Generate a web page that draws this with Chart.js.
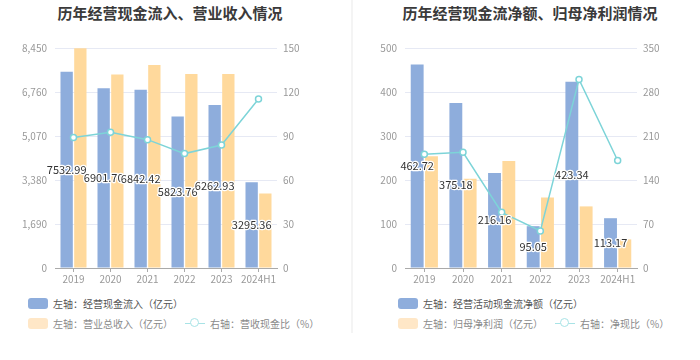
<!DOCTYPE html>
<html>
<head>
<meta charset="utf-8">
<script src="https://cdn.jsdelivr.net/npm/chart.js@4.4.0/dist/chart.umd.min.js"></script>
<style>
  body { margin: 0; width: 700px; height: 360px; background: #fff; position: relative; overflow: hidden;
         font-family: "Noto Sans CJK SC", "Noto Sans", sans-serif; }
  .title { position: absolute; top: 2px; transform: translateX(-50%); white-space: nowrap;
           font-size: 15px; font-weight: bold; color: #3a3a3a; }
  .panel { position: absolute; top: 0; }
  .sep { position: absolute; left: 351px; top: 0; width: 2px; height: 333px; background: #f4f4f4; }
  .legend { position: absolute; font-size: 10px; }
  .row { position: absolute; left: 0; display: flex; align-items: center; white-space: nowrap; height: 14px; }
  .item { display: flex; align-items: center; margin-right: 12px; }
  .box { width: 20px; height: 11px; border-radius: 3px; margin-right: 5px; }
  .mark { position: relative; width: 20px; height: 11px; margin-right: 5px; }
  .mark i { position: absolute; left: 0; right: 0; top: 5px; height: 1.5px; }
  .mark b { position: absolute; left: 5px; top: 0.5px; width: 7px; height: 7px; border-radius: 50%; background: #fff; border: 1.5px solid; }
</style>
</head>
<body>
<div class="title" style="left:170px">历年经营现金流入、营业收入情况</div>
<div class="title" style="left:530px">历年经营现金流净额、归母净利润情况</div>
<div class="sep"></div>
<div class="panel" style="left:0"><canvas id="leftChart" width="350" height="295"></canvas></div>
<div class="panel" style="left:352px"><canvas id="rightChart" width="348" height="295"></canvas></div>
<div class="legend" id="leftLegend" style="left:28px;top:296px"></div>
<div class="legend" id="rightLegend" style="left:398px;top:296px"></div>
<script>
const years = ['2019', '2020', '2021', '2022', '2023', '2024H1']

// left chart (亿元 / %)
const cashInflow = [7532.99, 6901.70, 6842.42, 5823.76, 6262.93, 3295.36]
const totalRevenue = [8440, 7430, 7800, 7450, 7450, 2860]
const cashRevenueRatio = [89.0, 92.6, 87.5, 78.0, 83.8, 115.2]

// right chart (亿元 / %)
const netCashFlow = [462.72, 375.18, 216.16, 95.05, 423.34, 113.17]
const netProfit = [254, 203, 243, 160, 140, 65]
const netCashRatio = [181, 184, 88.5, 59, 300, 171]

const BLUE = '#8eaddc'
const ORANGE = '#ffd99c'
const TEAL = '#7dd4d8'

Chart.defaults.font.family = '"Noto Sans CJK SC", "Noto Sans", sans-serif'

// value labels in the middle of the first (blue) bar series
const valueLabels = {
  id: 'valueLabels',
  afterDatasetsDraw(chart) {
    const ctx = chart.ctx
    const ds = chart.data.datasets[0]
    ctx.save()
    ctx.font = '11px "Noto Sans CJK SC", sans-serif'
    ctx.textAlign = 'center'
    ctx.textBaseline = 'middle'
    ctx.lineJoin = 'round'
    ctx.lineWidth = 2.5
    ctx.strokeStyle = '#fff'
    ctx.fillStyle = '#333'
    chart.getDatasetMeta(0).data.forEach((bar, i) => {
      const txt = ds.data[i].toFixed(2)
      const y = (bar.y + bar.base) / 2
      ctx.strokeText(txt, bar.x, y)
      ctx.fillText(txt, bar.x, y)
    })
    ctx.restore()
  }
}

function makeChart(id, o) {
  return new Chart(document.getElementById(id), {
    type: 'bar',
    data: {
      labels: years,
      datasets: [
        { label: o.labelA, data: o.a, backgroundColor: BLUE, yAxisID: 'y', order: 1, categoryPercentage: 0.74, barPercentage: 0.9 },
        { label: o.labelB, data: o.b, backgroundColor: ORANGE, yAxisID: 'y', order: 1, categoryPercentage: 0.74, barPercentage: 0.9 },
        { type: 'line', label: o.labelR, data: o.r, yAxisID: 'y1', order: 0, borderColor: TEAL, borderWidth: 1.5,
          pointRadius: 3, pointBackgroundColor: '#fff', pointBorderColor: TEAL, pointBorderWidth: 1.5, tension: 0 },
      ],
    },
    options: {
      responsive: false,
      animation: false,
      layout: { padding: { top: 48 } },
      plugins: { legend: { display: false }, tooltip: { enabled: false } },
      scales: {
        x: {
          grid: { display: true, drawOnChartArea: false, offset: false, tickLength: 4, color: '#aaa' },
          border: { color: '#aaa' },
          ticks: { color: '#999', padding: 1, font: { size: 10 }, maxRotation: 0, minRotation: 0, autoSkip: false },
          afterFit: s => { s.height = 27 },
        },
        y: {
          position: 'left', min: 0, max: o.max, ticks: { stepSize: o.max / 5, color: '#999', padding: 8, font: { size: 10 } },
          grid: { color: '#e6e9f4', drawTicks: false }, border: { display: false },
          afterFit: s => { s.width = o.leftW },
        },
        y1: {
          position: 'right', min: 0, max: o.max1, ticks: { stepSize: o.max1 / 5, color: '#999', padding: 6, font: { size: 10 } },
          grid: { drawOnChartArea: false, drawTicks: false }, border: { display: false },
          afterFit: s => { s.width = o.rightW },
        },
      },
    },
    plugins: [valueLabels],
  })
}

function buildLegend(el, chart) {
  const [a, b, r] = chart.data.datasets
  el.innerHTML = `
    <div class="row" style="top:0;color:#555">
      <div class="item"><div class="box" style="background:${a.backgroundColor}"></div>${a.label}</div>
    </div>
    <div class="row" style="top:20px;color:#8a8a8a">
      <div class="item"><div class="box" style="background:#ffe7c7"></div>${b.label}</div>
      <div class="item"><div class="mark"><i style="background:#a8e3e6"></i><b style="border-color:#a8e3e6"></b></div>${r.label}</div>
    </div>`
}

const leftChart = makeChart('leftChart', {
  a: cashInflow, b: totalRevenue, r: cashRevenueRatio,
  labelA: '左轴：经营现金流入（亿元）', labelB: '左轴：营业总收入（亿元）', labelR: '右轴：营收现金比（%）',
  max: 8450, max1: 150, leftW: 55, rightW: 73,
})
const rightChart = makeChart('rightChart', {
  a: netCashFlow, b: netProfit, r: netCashRatio,
  labelA: '左轴：经营活动现金流净额（亿元）', labelB: '左轴：归母净利润（亿元）', labelR: '右轴：净现比（%）',
  max: 500, max1: 350, leftW: 53, rightW: 63,
})

buildLegend(document.getElementById('leftLegend'), leftChart)
buildLegend(document.getElementById('rightLegend'), rightChart)
</script>
</body>
</html>
